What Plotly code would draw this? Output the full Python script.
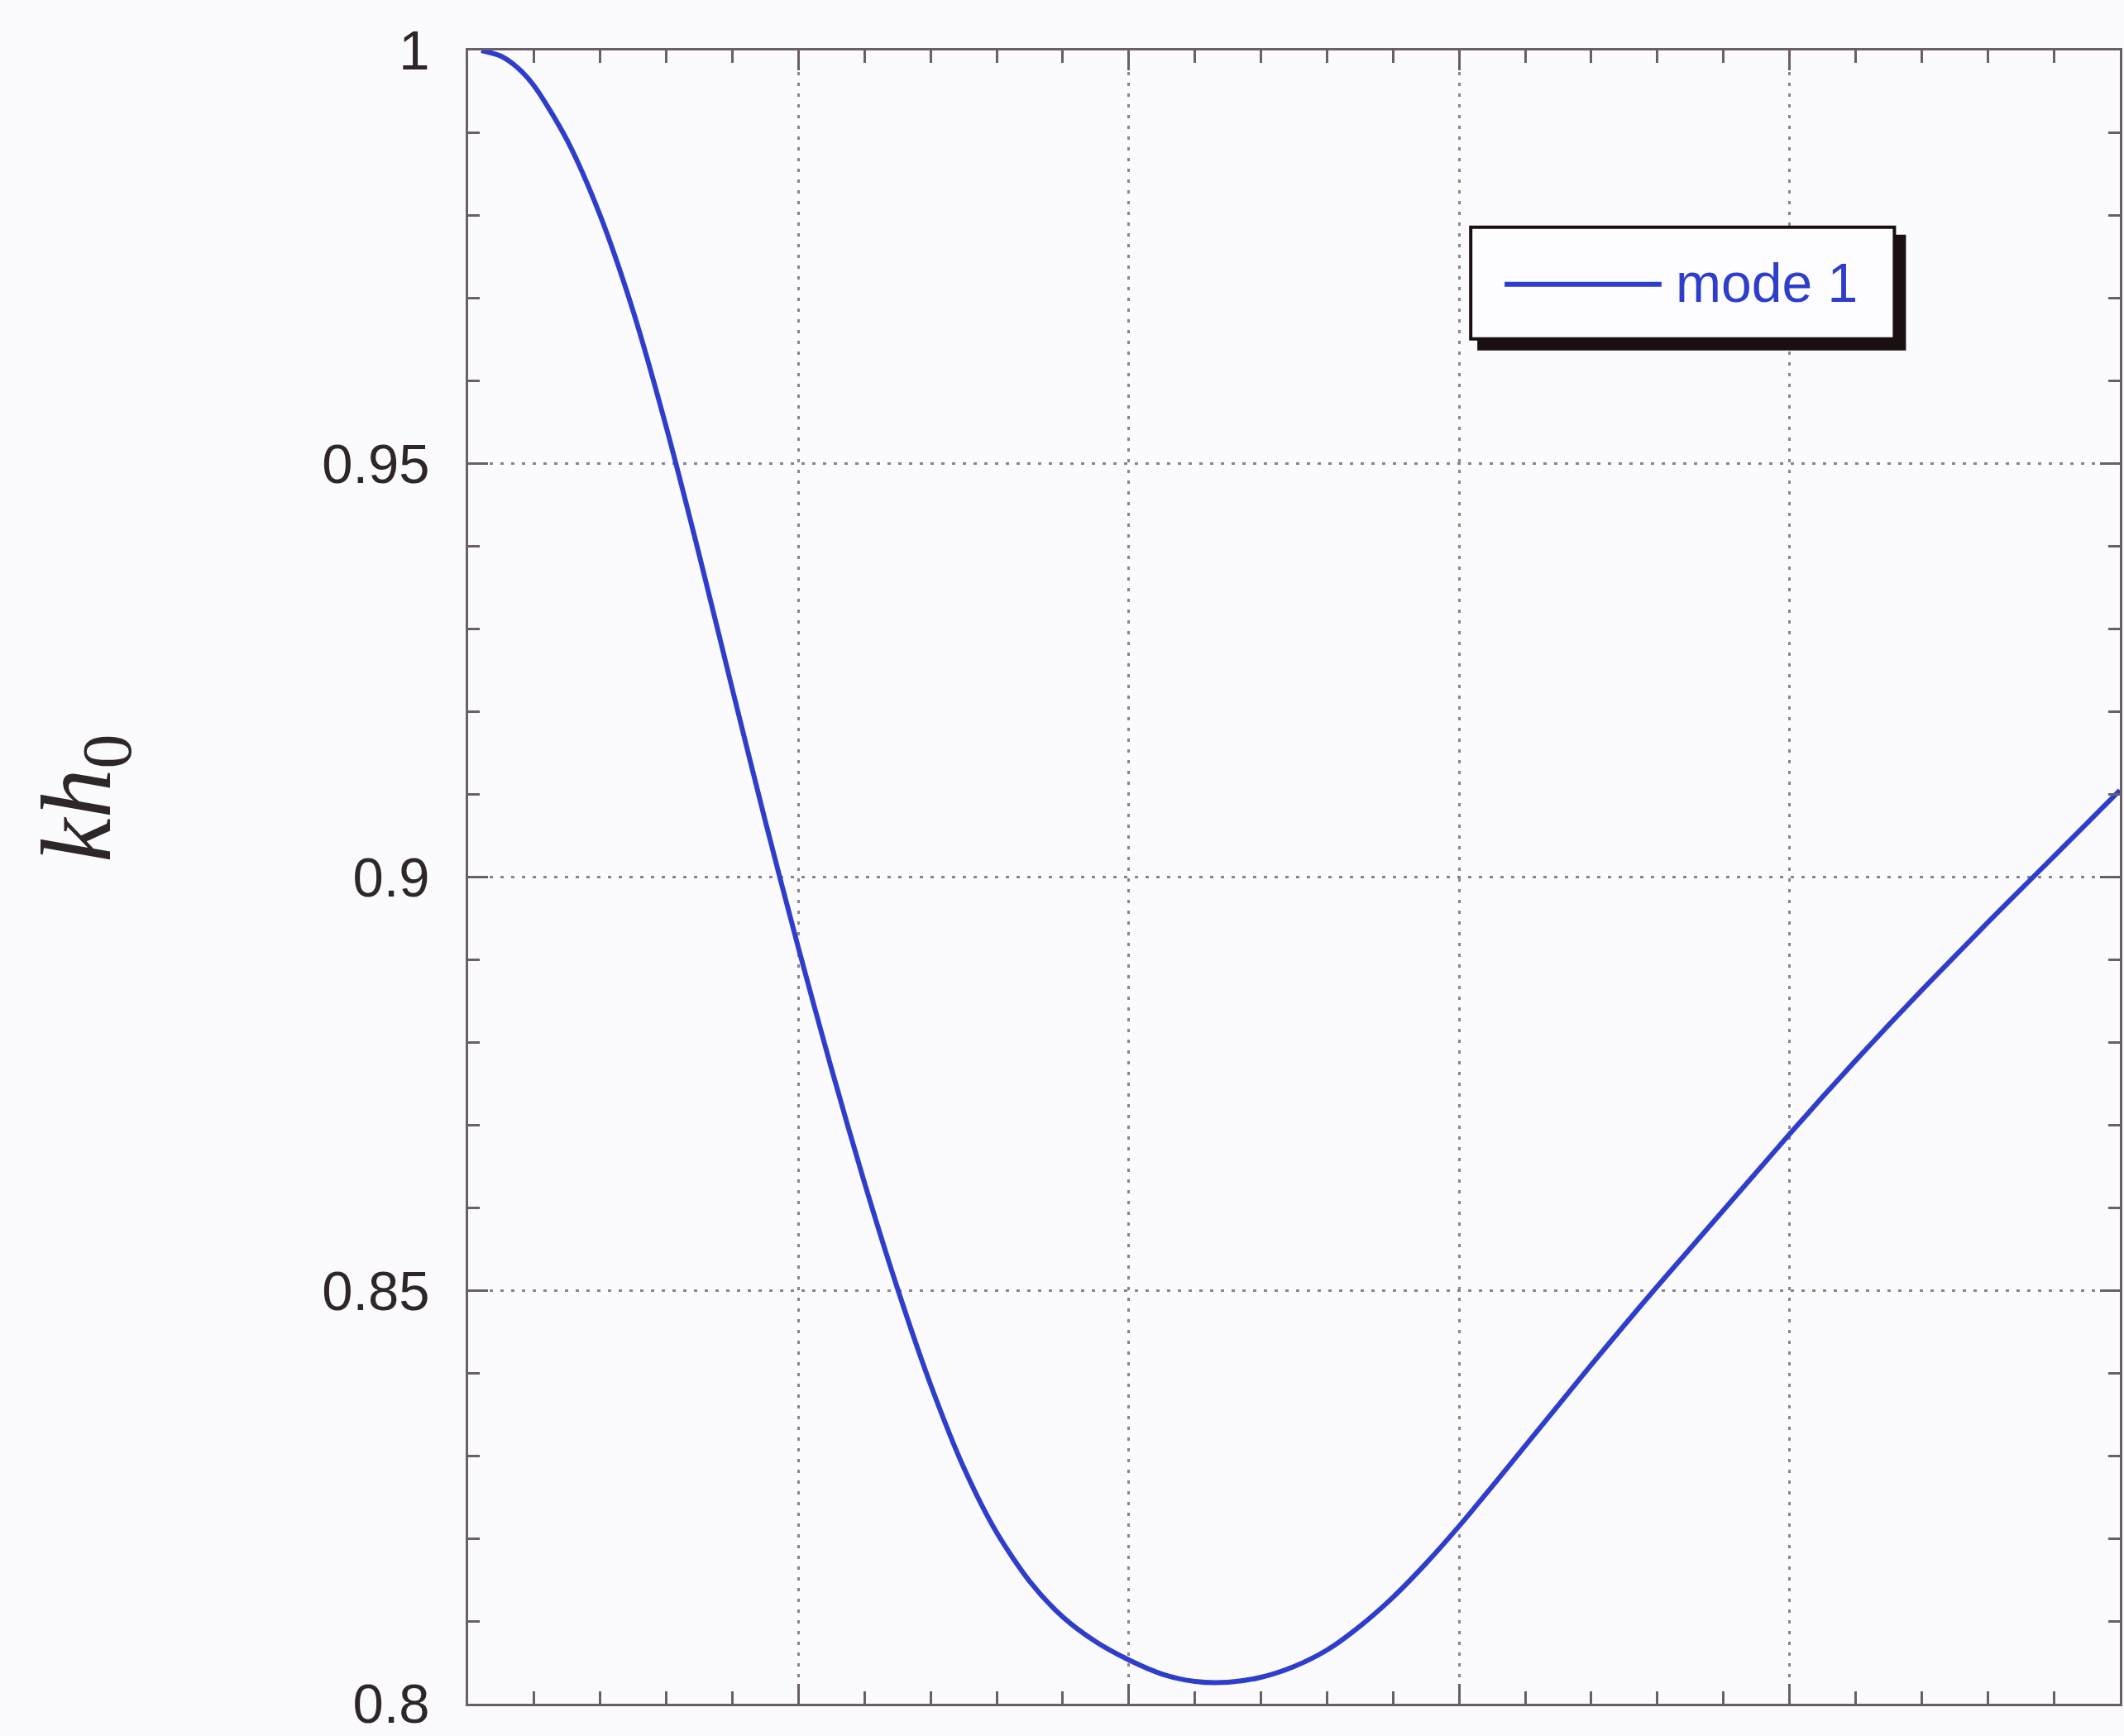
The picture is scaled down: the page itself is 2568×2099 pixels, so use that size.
import plotly.graph_objects as go

# --- data ---
x_vals = [0.04, 0.1, 0.15, 0.2, 0.3, 0.4, 0.5, 0.6, 0.7, 0.8, 0.9, 1.0, 1.1, 1.2, 1.3, 1.4, 1.5,
          1.6, 1.7, 1.8, 1.9, 2.0, 2.1, 2.2, 2.3, 2.4, 2.5, 2.6, 2.7, 2.8, 2.9, 3.0, 3.1,
          3.2, 3.3, 3.4, 3.5, 3.6, 3.7, 3.8, 3.9, 4.0, 4.1, 4.2, 4.3, 4.4, 4.5, 4.6, 4.7,
          4.8, 4.9, 5.0]
kh0_vals = [1.0, 0.9993, 0.9979, 0.9957, 0.9891, 0.9800, 0.9684, 0.9544, 0.9389, 0.9227, 0.9067,
            0.8914, 0.8768, 0.8630, 0.8502, 0.8386, 0.8286, 0.8207, 0.8148, 0.8105, 0.8075,
            0.8053, 0.8036, 0.8027, 0.8026, 0.8032, 0.8045, 0.8065, 0.8094, 0.8129, 0.8170,
            0.8215, 0.8263, 0.8312, 0.8361, 0.8410, 0.8458, 0.8505, 0.8551, 0.8597, 0.8643,
            0.8689, 0.8734, 0.8778, 0.8821, 0.8863, 0.8904, 0.8945, 0.8985, 0.9025, 0.9065,
            0.9105]
y_ticks = [0.8, 0.85, 0.9, 0.95, 1.0]
y_ticktext = ["0.8", "0.85", "0.9", "0.95", "1"]
series_name = "mode 1"
y_title = "<i>kh</i><sub>0</sub>"

W, H = 2568, 2099
L, R, T, B = 566, 2, 61, 37
pw, ph = W - L - R, H - T - B

def px(xp):
    return (xp - L) / pw

def py(yp):
    return (H - B - yp) / ph

blue = "#2e3ecb"
axis_col = "#6a5e68"
grid_col = "#8c8290"
txt_col = "#2e2628"

fig = go.Figure()
fig.add_trace(go.Scatter(x=x_vals, y=kh0_vals, mode="lines", name=series_name,
                         line=dict(color=blue, width=6, shape="spline", smoothing=0.8),
                         showlegend=False))

axis_common = dict(showline=True, linecolor=axis_col, linewidth=3, mirror="allticks",
                   ticks="inside", ticklen=24, tickwidth=3, tickcolor=axis_col,
                   showgrid=True, gridcolor=grid_col, gridwidth=2.5, griddash="4px,9px",
                   zeroline=False)

fig.update_xaxes(range=[0, 5], dtick=1, tick0=0, showticklabels=False,
                 minor=dict(dtick=0.2, tick0=0, ticks="inside", ticklen=15, tickwidth=3,
                            tickcolor=axis_col, showgrid=False),
                 **axis_common)
fig.update_yaxes(range=[0.8, 1.0], tickvals=y_ticks, ticktext=y_ticktext,
                 tickfont=dict(family="Liberation Sans, Arial", size=67, color=txt_col),
                 ticklabelstandoff=30, ticklabeloverflow="allow",
                 minor=dict(dtick=0.01, tick0=0.8, ticks="inside", ticklen=14, tickwidth=3,
                            tickcolor=axis_col, showgrid=False),
                 **axis_common)

# y-axis title placed where the reference has it
fig.add_annotation(xref="paper", yref="paper", x=px(100), y=py(966), text=y_title,
                   textangle=-90, showarrow=False, xanchor="center", yanchor="middle",
                   font=dict(family="Liberation Serif, DejaVu Serif", size=120, color=txt_col))

# legend box with drop shadow
shapes = [
    dict(type="rect", xref="paper", yref="paper", x0=px(1788), x1=px(2307), y0=py(424), y1=py(284),
         fillcolor="#1a1012", line=dict(width=0), layer="above"),
    dict(type="rect", xref="paper", yref="paper", x0=px(1780), x1=px(2293), y0=py(410), y1=py(275),
         fillcolor="#fdfdff", line=dict(color="#1a1012", width=4), layer="above"),
    dict(type="line", xref="paper", yref="paper", x0=px(1821), x1=px(2011), y0=py(344), y1=py(344),
         line=dict(color=blue, width=6), layer="above"),
]
fig.update_layout(shapes=shapes)
fig.add_annotation(xref="paper", yref="paper", x=px(2026), y=py(342), text=series_name,
                   showarrow=False, xanchor="left", yanchor="middle",
                   font=dict(family="Liberation Sans, Arial", size=66, color=blue))

fig.update_layout(width=W, height=H, autosize=False,
                  margin=dict(l=L, r=R, t=T, b=B, pad=0),
                  paper_bgcolor="#fbfbfd", plot_bgcolor="#fbfbfd",
                  showlegend=False)

fig.write_html("out.html")
